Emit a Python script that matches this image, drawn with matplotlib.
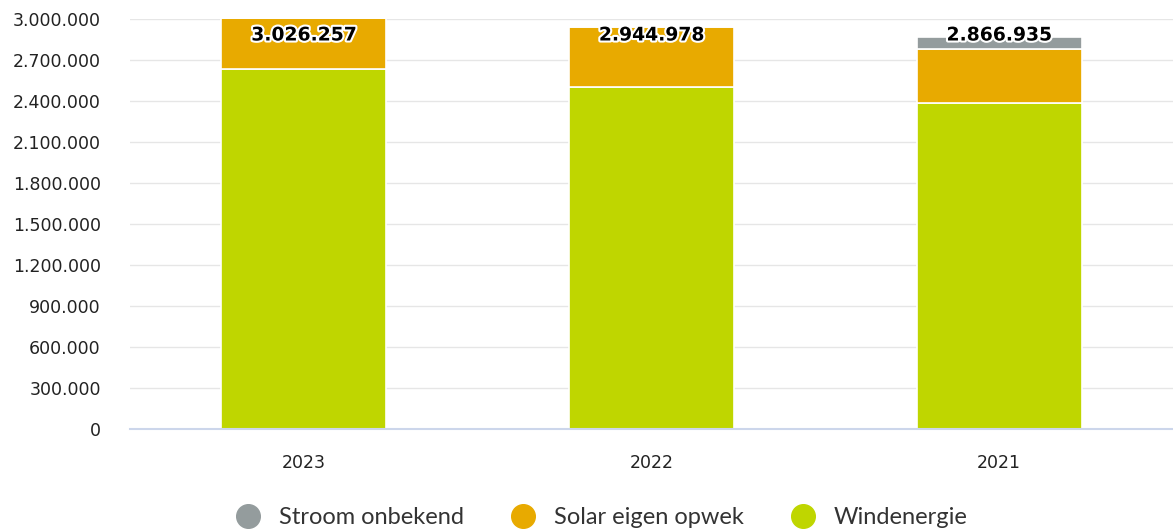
import numpy as np
import matplotlib.pyplot as plt
import matplotlib.patheffects as pe
from matplotlib.lines import Line2D
from matplotlib.ticker import FuncFormatter


# -------------------
# DATA
# -------------------
years = ["2023", "2022", "2021"]
wind = [2634000, 2502400, 2383000]
solar = [392257, 442578, 395000]
onbekend = [0, 0, 88935]
totals = [3026257, 2944978, 2866935]

colors = {"Stroom onbekend": "#949c9d", "Solar eigen opwek": "#e8aa00", "Windenergie": "#bfd600"}


def nl_format(v, pos=None):
    return f"{int(v):,}".replace(",", ".")


# -------------------
# PLOT
# -------------------
fig = plt.figure(figsize=(11.73, 5.32), dpi=100)
ax = fig.add_axes([130 / 1173, 103 / 532, 1 - 130 / 1173, 410 / 532])

x = np.arange(len(years))
w = 0.475
wind = np.array(wind)
solar = np.array(solar)
onbekend = np.array(onbekend)

ax.bar(x, wind, w, color=colors["Windenergie"], edgecolor="white", linewidth=1.2, zorder=2)
ax.bar(x, solar, w, bottom=wind, color=colors["Solar eigen opwek"], edgecolor="white", linewidth=1.2, zorder=2)
ax.bar(x, onbekend, w, bottom=wind + solar, color=colors["Stroom onbekend"], edgecolor="white", linewidth=1.2, zorder=2)

ax.set_xlim(-0.5, 2.5)
ax.set_ylim(0, 3000000)
ax.set_yticks(np.arange(0, 3000001, 300000))
ax.yaxis.set_major_formatter(FuncFormatter(nl_format))
ax.set_xticks(x)
ax.set_xticklabels(years)

ax.grid(axis="y", color="#e6e6e6", linewidth=1, zorder=0)
for s in ["top", "right", "left"]:
    ax.spines[s].set_visible(False)
ax.spines["bottom"].set_color("#ccd6eb")
ax.spines["bottom"].set_linewidth(1.5)
ax.tick_params(axis="both", length=0, labelsize=12.5, colors="#222222")
ax.tick_params(axis="y", pad=21)
ax.tick_params(axis="x", pad=18)

# total labels
label_y = 2883000
for xi, t in zip(x, totals):
    ax.text(xi, label_y, nl_format(t), ha="center", va="center", fontsize=13.5,
            fontweight="bold", color="black", zorder=5, clip_on=False,
            path_effects=[pe.withStroke(linewidth=3, foreground="white")])

# legend
handles = [Line2D([], [], marker="o", linestyle="", markersize=17, color=c) for c in colors.values()]
fig.legend(handles, list(colors.keys()), loc="center", bbox_to_anchor=(0.508, 0.027), ncol=3,
           frameon=False, handletextpad=0.3, columnspacing=1.5,
           prop={"family": "Lato", "size": 17}, labelcolor="#333333")

fig.savefig("out.png", dpi=100)
